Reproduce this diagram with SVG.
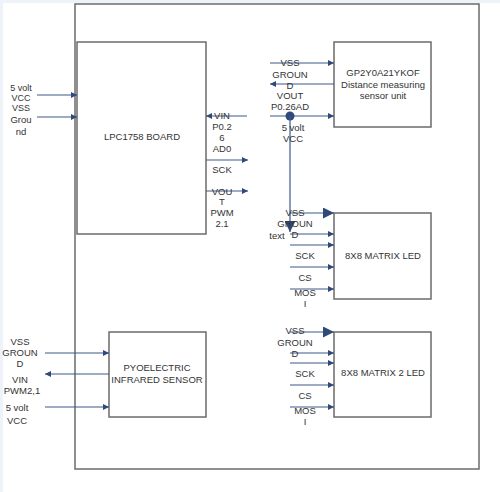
<svg xmlns="http://www.w3.org/2000/svg" width="500" height="492" viewBox="0 0 500 492">
<defs>
<style>
.box{fill:#fff;stroke:#6b6b6b;stroke-width:1.5}
.frame{fill:#fff;stroke:#6b6b6b;stroke-width:1.5}
.c{stroke:#3d5a88;stroke-width:1.2;fill:none}
text{font-family:"Liberation Sans",Arial,sans-serif;font-size:9.5px;fill:#333;text-anchor:middle}
.s{font-size:9px}
</style>
<marker id="a" viewBox="0 0 10 10" refX="10" refY="5" markerWidth="6" markerHeight="6" markerUnits="userSpaceOnUse" orient="auto"><path d="M0,0L10,5L0,10z" fill="#2f4a7a"/></marker>
<marker id="b" viewBox="0 0 10 10" refX="10" refY="5" markerWidth="11" markerHeight="11" markerUnits="userSpaceOnUse" orient="auto"><path d="M0,0L10,5L0,10z" fill="#2f4a7a"/></marker>
</defs>
<rect x="0" y="0" width="500" height="492" fill="#eef3fa"/>
<rect x="3" y="3" width="497" height="489" fill="#fff"/>
<rect class="frame" x="75" y="4" width="404" height="465"/>

<g id="lpc"><rect class="box" x="77" y="42" width="129" height="192"/><text x="142" y="140">LPC1758 BOARD</text></g>
<g id="gp2y"><rect class="box" x="334" y="42" width="97" height="85"/><text x="383" y="76">GP2Y0A21YKOF</text><text x="383" y="88">Distance measuring</text><text x="383" y="99">sensor unit</text></g>
<g id="matrix1"><rect class="box" x="334" y="213" width="97" height="86"/><text x="383" y="259">8X8 MATRIX LED</text></g>
<g id="matrix2"><rect class="box" x="334" y="332" width="97" height="85"/><text x="383" y="376">8X8 MATRIX 2 LED</text></g>
<g id="pir"><rect class="box" x="109" y="332" width="97" height="85"/><text x="157" y="371">PYOELECTRIC</text><text x="157" y="383">INFRARED SENSOR</text></g>

<g id="connectors">
<path class="c" d="M37,95H77" marker-end="url(#a)"/>
<path class="c" d="M37,117H77" marker-end="url(#a)"/>
<path class="c" d="M247,116H206" marker-end="url(#a)"/>
<path class="c" d="M206,160H248" marker-end="url(#a)"/>
<path class="c" d="M206,191H248" marker-end="url(#a)"/>
<path class="c" d="M270,63H334" marker-end="url(#a)"/>
<path class="c" d="M334,84H270" marker-end="url(#a)"/>
<path class="c" d="M270,116H334" marker-end="url(#a)"/>
<circle cx="290" cy="116" r="4.5" fill="#2f4a7a"/>
<path class="c" d="M290,116V232" marker-end="url(#b)"/>
<path class="c" d="M290,213H334" marker-end="url(#b)"/>
<path class="c" d="M290,234H334" marker-end="url(#a)"/>
<path class="c" d="M290,245H334" marker-end="url(#a)"/>
<path class="c" d="M290,267H334" marker-end="url(#a)"/>
<path class="c" d="M290,289H334" marker-end="url(#a)"/>
<path class="c" d="M290,332H334" marker-end="url(#b)"/>
<path class="c" d="M290,353H334" marker-end="url(#a)"/>
<path class="c" d="M290,363H334" marker-end="url(#a)"/>
<path class="c" d="M290,385H334" marker-end="url(#a)"/>
<path class="c" d="M290,407H334" marker-end="url(#a)"/>
<path class="c" d="M45,353H109" marker-end="url(#a)"/>
<path class="c" d="M109,374H45" marker-end="url(#a)"/>
<path class="c" d="M45,407H109" marker-end="url(#a)"/>
</g>

<g id="labels">
<text class="s" x="21" y="91">5 volt</text><text class="s" x="21" y="101">VCC</text><text class="s" x="21" y="111">VSS</text><text x="21" y="123">Grou</text><text x="21" y="135">nd</text>
<text x="222" y="119">VIN</text><text x="222" y="130">P0.2</text><text x="222" y="141">6</text><text x="222" y="152">AD0</text>
<text x="222" y="173">SCK</text>
<text x="222" y="195">VOU</text><text x="222" y="205">T</text><text x="222" y="216">PWM</text><text x="222" y="227">2.1</text>
<text x="290" y="66">VSS</text><text x="290" y="78">GROUN</text><text x="290" y="89">D</text><text x="290" y="99">VOUT</text><text x="290" y="110">P0.26AD</text>
<text x="293" y="131">5 volt</text><text x="293" y="142">VCC</text>
<text x="295" y="216">VSS</text><text x="295" y="227">GROUN</text><text x="295" y="238">D</text><text x="277" y="239">text</text>
<text x="305" y="259">SCK</text><text x="305" y="281">CS</text><text x="305" y="296">MOS</text><text x="305" y="307">I</text>
<text x="295" y="334">VSS</text><text x="295" y="346">GROUN</text><text x="295" y="357">D</text>
<text x="305" y="377">SCK</text><text x="305" y="399">CS</text><text x="305" y="414">MOS</text><text x="305" y="425">I</text>
<text x="20" y="345">VSS</text><text x="20" y="356">GROUN</text><text x="20" y="367">D</text>
<text x="20" y="383">VIN</text><text x="22" y="394">PWM2,1</text>
<text x="17" y="411">5 volt</text><text x="17" y="424">VCC</text>
</g>
</svg>
